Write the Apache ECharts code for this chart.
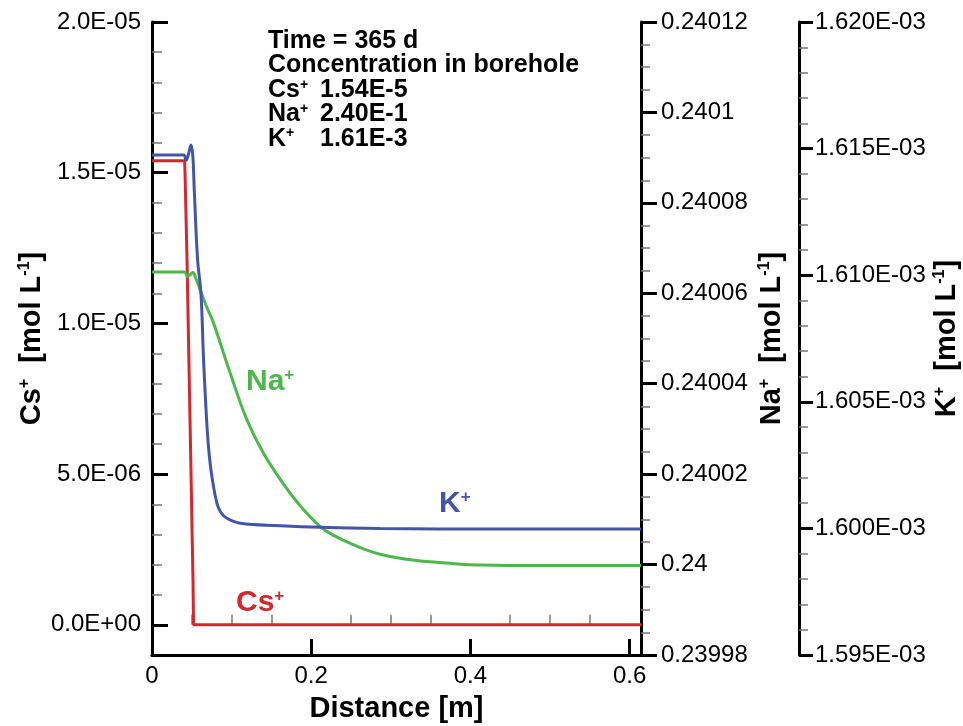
<!DOCTYPE html>
<html>
<head>
<meta charset="utf-8">
<script src="https://cdn.jsdelivr.net/npm/echarts@6/dist/echarts.min.js"></script>
<style>html,body{margin:0;padding:0;background:#fff;}#chart{width:963px;height:726px;}</style>
</head>
<body>
<div id="chart"></div>
<script>
// ---- data ----
const csDistance = [0, 0.041, 0.0415, 0.044, 0.0515, 0.0522, 0.615];
const csConc     = [1.54e-5, 1.54e-5, 1.50e-5, 1.21e-5, 1.5e-6, 0, 0];

const naDistance = [0, 0.0405, 0.0447, 0.0515, 0.0544, 0.0606, 0.0682, 0.0773, 0.0983, 0.1193, 0.1401, 0.1652, 0.1862, 0.2113, 0.2300, 0.2490, 0.2680, 0.2866, 0.3117, 0.3494, 0.3800, 0.4122, 0.4500, 0.5001, 0.6143];
const naConc     = [0.2400647, 0.2400647, 0.2400637, 0.2400646, 0.2400636, 0.2400607, 0.2400572, 0.2400534, 0.2400423, 0.2400320, 0.2400246, 0.2400178, 0.2400130, 0.2400084, 0.2400063, 0.2400047, 0.2400033, 0.2400023, 0.2400014, 0.2400006, 0.2400002, 0.2399999, 0.2399998, 0.2399998, 0.2399998];

const kDistance = [0, 0.0397, 0.0427, 0.0462, 0.0490, 0.0512, 0.0531, 0.0573, 0.0615, 0.0648, 0.0691, 0.0719, 0.0753, 0.0816, 0.0870, 0.0942, 0.1109, 0.1611, 0.2113, 0.2866, 0.3600, 0.4373, 0.6143];
const kConc     = [1.614747e-3, 1.614747e-3, 1.614530e-3, 1.614826e-3, 1.615142e-3, 1.614747e-3, 1.613365e-3, 1.610600e-3, 1.609285e-3, 1.606651e-3, 1.604017e-3, 1.602899e-3, 1.602042e-3, 1.600991e-3, 1.600608e-3, 1.600399e-3, 1.600201e-3, 1.600107e-3, 1.600043e-3, 1.599994e-3, 1.599980e-3, 1.599976e-3, 1.599976e-3];

const xMajorTicks  = [0, 0.2, 0.4, 0.6];
const xMinorTicks  = [0.05, 0.1, 0.15, 0.25, 0.3, 0.35, 0.45, 0.5, 0.55];
const csMajorTicks = [0, 5e-6, 1e-5, 1.5e-5, 2e-5];
const csMinorTicks = [1e-6, 2e-6, 3e-6, 4e-6, 6e-6, 7e-6, 8e-6, 9e-6, 1.1e-5, 1.2e-5, 1.3e-5, 1.4e-5, 1.6e-5, 1.7e-5, 1.8e-5, 1.9e-5];

const annotLabels = ['Time = 365 d', 'Concentration in borehole'];
const ionNames  = ['Cs', 'Na', 'K'];
const ionValues = ['1.54E-5', '2.40E-1', '1.61E-3'];

// ---- styling ----
const FONT = 'Liberation Sans, Arial, Helvetica, sans-serif';
const RED = '#d2282e', GREEN = '#4cb84c', BLUE = '#4255a8';

function sci(v, d) {
  const parts = v.toExponential(d).split('e');
  const n = parseInt(parts[1], 10);
  return parts[0] + 'E' + (n < 0 ? '-' : '+') + String(Math.abs(n)).padStart(2, '0');
}
function pairs(xs, ys) { return xs.map((x, i) => [x, ys[i]]); }

const bigRich = (size) => ({
  b: { fontFamily: FONT, fontWeight: 'bold', fontSize: size, lineHeight: size, color: '#000' },
  s: { fontFamily: FONT, fontWeight: 'bold', fontSize: Math.round(size * 0.55), lineHeight: Math.round(size * 0.55), verticalAlign: 'top', color: '#000' }
});
const axisTitle = (ion) => '{b|' + ion + '}{s|+}  {b|[mol L}{s|-1}{b|]}';

const majorTick = (inside, len) => ({ show: true, inside: inside, length: len, lineStyle: { color: '#000', width: 3 } });
const minorStyle = { color: '#777', width: 1.5 };
const labelStyle = { fontFamily: FONT, fontSize: 24, color: '#000' };
const axisLine = { show: true, onZero: false, lineStyle: { color: '#000', width: 3 } };

const coloredLabel = (txt, color) => ({
  text: '{b|' + txt + '}{s|+}',
  textStyle: { rich: {
    b: { fontFamily: FONT, fontWeight: 'bold', fontSize: 30, lineHeight: 30, color: color },
    s: { fontFamily: FONT, fontWeight: 'bold', fontSize: 17, lineHeight: 17, verticalAlign: 'top', color: color }
  } }
});

const annotRich = {
  b: { fontFamily: FONT, fontWeight: 'bold', fontSize: 25, lineHeight: 24.4, color: '#000' },
  s: { fontFamily: FONT, fontWeight: 'bold', fontSize: 14, lineHeight: 14, verticalAlign: 'top', color: '#000' }
};

const option = {
  animation: false,
  backgroundColor: '#fff',
  title: [
    { left: 268, top: 29, padding: 0,
      text: annotLabels.map(t => '{b|' + t + '}').join('\n') + '\n' + ionNames.map(n => '{b|' + n + '}{s|+}').join('\n'),
      textStyle: { rich: annotRich } },
    { left: 320, top: 77.8, padding: 0,
      text: ionValues.map(v => '{b|' + v + '}').join('\n'),
      textStyle: { rich: annotRich } },
    Object.assign({ left: 246, top: 367, padding: 0 }, coloredLabel('Na', GREEN)),
    Object.assign({ left: 236, top: 588, padding: 0 }, coloredLabel('Cs', RED)),
    Object.assign({ left: 439, top: 489, padding: 0 }, coloredLabel('K', BLUE))
  ],
  grid: { left: 152, top: 22, width: 489, height: 633, containLabel: false, outerBoundsMode: 'none' },
  xAxis: [
    { type: 'value', min: 0, max: 0.6143, position: 'bottom',
      axisLine: axisLine,
      axisTick: Object.assign(majorTick(true, 16), { customValues: xMajorTicks }),
      axisLabel: Object.assign({ customValues: xMajorTicks, margin: 9, formatter: v => String(parseFloat(v.toFixed(2))) }, labelStyle),
      splitLine: { show: false },
      name: 'Distance [m]', nameLocation: 'middle', nameGap: 39, nameMoveOverlap: false,
      nameTextStyle: { fontFamily: FONT, fontWeight: 'bold', fontSize: 29, color: '#000' } },
    { type: 'value', min: 0, max: 0.6143, position: 'bottom',
      axisLine: { show: false },
      axisTick: { show: true, inside: true, length: 10, lineStyle: minorStyle, customValues: xMinorTicks },
      axisLabel: { show: false }, splitLine: { show: false } }
  ],
  yAxis: [
    { type: 'value', position: 'left', min: -1e-6, max: 2e-5,
      axisLine: axisLine,
      axisTick: Object.assign(majorTick(true, 16), { customValues: csMajorTicks }),
      axisLabel: Object.assign({ customValues: csMajorTicks, margin: 11, formatter: v => sci(v, 1) }, labelStyle),
      splitLine: { show: false },
      name: axisTitle('Cs'), nameLocation: 'middle', nameRotate: 90, nameGap: 106, nameMoveOverlap: false,
      nameTextStyle: { fontFamily: FONT, fontWeight: 'bold', fontSize: 29, color: '#000', rich: bigRich(29) } },
    { type: 'value', position: 'right', min: 0.23998, max: 0.24012, interval: 0.00002,
      axisLine: axisLine,
      axisTick: majorTick(false, 16),
      minorTick: { show: true, splitNumber: 4, length: 9, lineStyle: minorStyle },
      axisLabel: Object.assign({ margin: 20, formatter: v => String(parseFloat(v.toFixed(5))) }, labelStyle),
      splitLine: { show: false }, minorSplitLine: { show: false },
      name: axisTitle('Na'), nameLocation: 'middle', nameRotate: 90, nameGap: 116, nameMoveOverlap: false,
      nameTextStyle: { fontFamily: FONT, fontWeight: 'bold', fontSize: 29, color: '#000', rich: bigRich(29) } },
    { type: 'value', position: 'right', offset: 158, min: 1.595e-3, max: 1.620e-3, interval: 5e-6,
      axisLine: axisLine,
      axisTick: majorTick(false, 14),
      minorTick: { show: true, splitNumber: 5, length: 9, lineStyle: minorStyle },
      axisLabel: Object.assign({ margin: 16, formatter: v => sci(v, 3) }, labelStyle),
      splitLine: { show: false }, minorSplitLine: { show: false },
      name: axisTitle('K'), nameLocation: 'middle', nameRotate: 90, nameGap: 133, nameMoveOverlap: false,
      nameTextStyle: { fontFamily: FONT, fontWeight: 'bold', fontSize: 29, color: '#000', rich: bigRich(29) } },
    { type: 'value', position: 'left', min: -1e-6, max: 2e-5,
      axisLine: { show: false },
      axisTick: { show: true, inside: true, length: 10, lineStyle: minorStyle, customValues: csMinorTicks },
      axisLabel: { show: false }, splitLine: { show: false } }
  ],
  series: [
    { name: 'Cs+', type: 'line', xAxisIndex: 0, yAxisIndex: 0, showSymbol: false,
      lineStyle: { color: RED, width: 3 }, itemStyle: { color: RED },
      data: pairs(csDistance, csConc) },
    { name: 'Na+', type: 'line', xAxisIndex: 0, yAxisIndex: 1, showSymbol: false, smooth: 0.4,
      lineStyle: { color: GREEN, width: 3 }, itemStyle: { color: GREEN },
      data: pairs(naDistance, naConc) },
    { name: 'K+', type: 'line', xAxisIndex: 0, yAxisIndex: 2, showSymbol: false, smooth: 0.4,
      lineStyle: { color: BLUE, width: 3 }, itemStyle: { color: BLUE },
      data: pairs(kDistance, kConc) }
  ]
};

const chart = echarts.init(document.getElementById('chart'), null, { renderer: 'canvas' });
chart.setOption(option);
</script>
</body>
</html>
